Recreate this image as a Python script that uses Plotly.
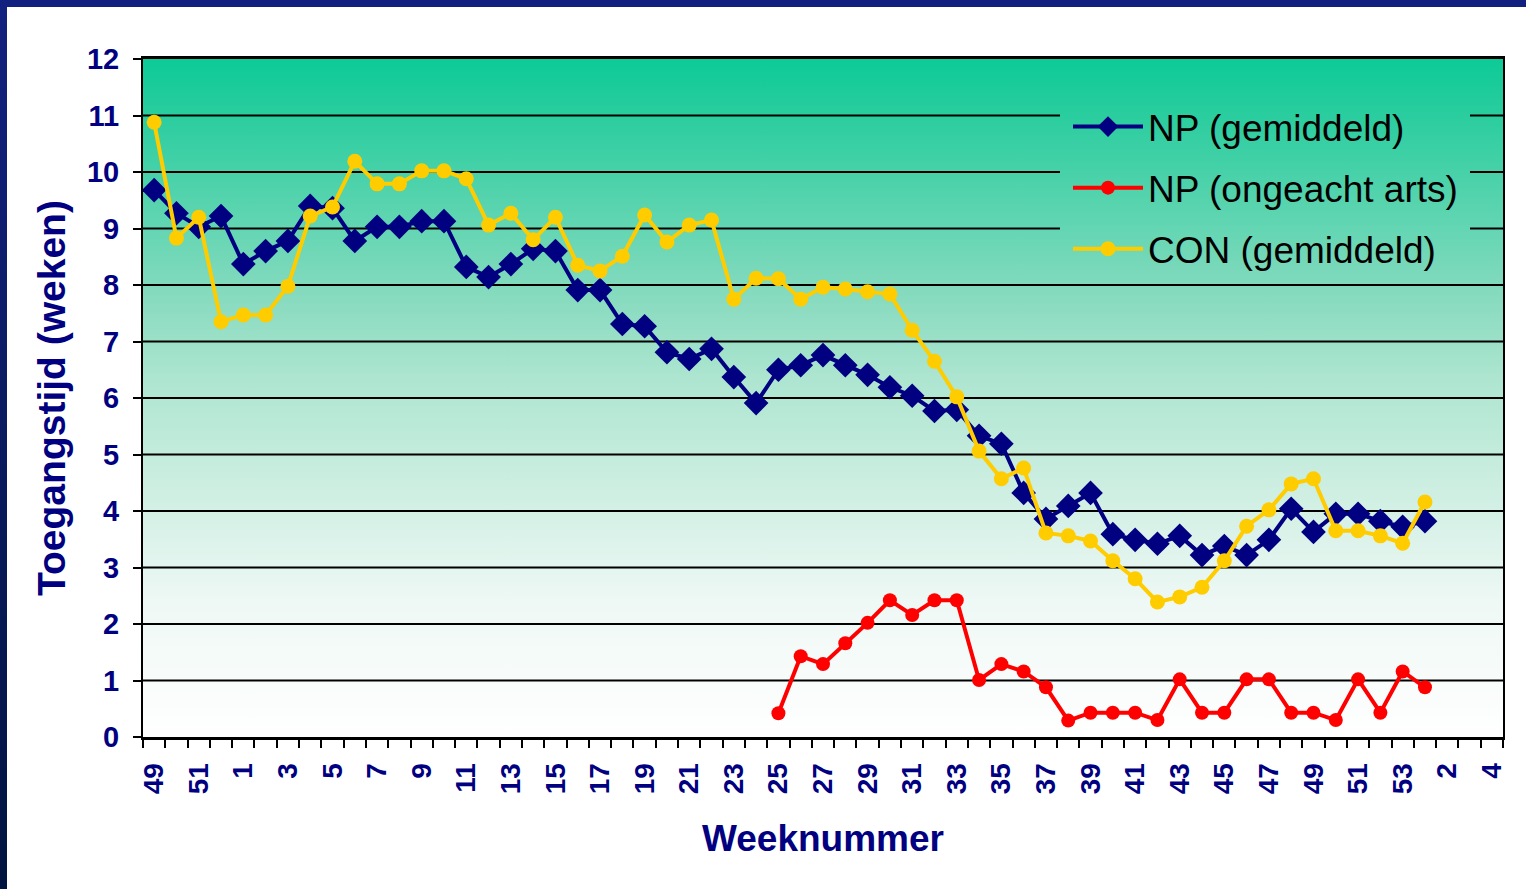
import base64
import plotly.graph_objects as go

# ---------------- data ----------------
weeks = [49, 50, 51, 52,
         1, 2, 3, 4, 5, 6, 7, 8, 9, 10, 11, 12, 13, 14, 15, 16, 17, 18, 19, 20,
         21, 22, 23, 24, 25, 26, 27, 28, 29, 30, 31, 32, 33, 34, 35, 36, 37, 38,
         39, 40, 41, 42, 43, 44, 45, 46, 47, 48, 49, 50, 51, 52, 53,
         1, 2, 3, 4]

np_gemiddeld = [9.68, 9.27, 9.03, 9.22, 8.37, 8.60, 8.78, 9.40, 9.36, 8.78,
                9.03, 9.03, 9.13, 9.13, 8.32, 8.14, 8.37, 8.64, 8.60, 7.91,
                7.91, 7.31, 7.27, 6.81, 6.69, 6.87, 6.37, 5.91, 6.50, 6.58,
                6.76, 6.58, 6.41, 6.19, 6.04, 5.77, 5.79, 5.33, 5.19, 4.32,
                3.86, 4.09, 4.32, 3.59, 3.49, 3.42, 3.56, 3.22, 3.38, 3.22,
                3.49, 4.04, 3.63, 3.95, 3.95, 3.82, 3.72, 3.82]

np_ongeacht = [None] * 28 + [
    0.42, 1.43, 1.29, 1.66, 2.02, 2.42, 2.16, 2.42, 2.42, 1.01,
    1.29, 1.16, 0.88, 0.29, 0.43, 0.43, 0.43, 0.30, 1.02, 0.43,
    0.43, 1.02, 1.02, 0.43, 0.43, 0.30, 1.02, 0.43, 1.16, 0.88]

con_gemiddeld = [10.88, 8.83, 9.20, 7.35, 7.47, 7.47, 7.98, 9.22, 9.38, 10.19,
                 9.79, 9.79, 10.02, 10.02, 9.88, 9.06, 9.27, 8.80, 9.20, 8.35,
                 8.25, 8.51, 9.24, 8.76, 9.06, 9.15, 7.75, 8.12, 8.11, 7.75,
                 7.96, 7.93, 7.88, 7.84, 7.20, 6.65, 6.02, 5.06, 4.57, 4.76,
                 3.61, 3.56, 3.47, 3.12, 2.80, 2.39, 2.48, 2.65, 3.12, 3.73,
                 4.02, 4.48, 4.57, 3.65, 3.65, 3.56, 3.43, 4.16]

series_names = ["NP (gemiddeld)", "NP (ongeacht arts)", "CON (gemiddeld)"]
series_colors = ["#000080", "#FF0000", "#FFCC00"]
y_ticks = list(range(0, 13))

x_pos = list(range(len(weeks)))

NAVY = "#000080"
FONT = "Liberation Sans, Arial, sans-serif"

fig = go.Figure()
fig.add_trace(go.Scatter(
    x=x_pos[:len(np_gemiddeld)], y=np_gemiddeld, name=series_names[0],
    legendgroup="g1", mode="lines+markers",
    line=dict(color=series_colors[0], width=4),
    marker=dict(symbol="diamond", size=19, color=series_colors[0])))
fig.add_trace(go.Scatter(
    x=x_pos[:len(np_ongeacht)], y=np_ongeacht, name=series_names[1],
    legendgroup="g2", mode="lines+markers",
    line=dict(color=series_colors[1], width=4),
    marker=dict(symbol="circle", size=14, color=series_colors[1])))
fig.add_trace(go.Scatter(
    x=x_pos[:len(con_gemiddeld)], y=con_gemiddeld, name=series_names[2],
    legendgroup="g3", mode="lines+markers",
    line=dict(color=series_colors[2], width=4),
    marker=dict(symbol="circle", size=15, color=series_colors[2])))

# ---------------- background gradient ----------------
def svg_uri(svg):
    return "data:image/svg+xml;base64," + base64.b64encode(svg.encode()).decode()

plot_grad = svg_uri(
    '<svg xmlns="http://www.w3.org/2000/svg" width="100" height="100" '
    'viewBox="0 0 100 100" preserveAspectRatio="none">'
    '<defs><linearGradient id="g" x1="0" y1="0" x2="0" y2="1">'
    '<stop offset="0" stop-color="#0ccb97"/>'
    '<stop offset="0.06" stop-color="#22cc9c"/>'
    '<stop offset="0.355" stop-color="#88dbbf"/>'
    '<stop offset="0.47" stop-color="#ade5d0"/>'
    '<stop offset="0.8" stop-color="#eef8f4"/>'
    '<stop offset="1" stop-color="#ffffff"/>'
    '</linearGradient></defs>'
    '<rect width="100" height="100" fill="url(#g)"/></svg>')

frame_grad = svg_uri(
    '<svg xmlns="http://www.w3.org/2000/svg" width="10" height="100" '
    'viewBox="0 0 10 100" preserveAspectRatio="none">'
    '<defs><linearGradient id="f" x1="0" y1="0" x2="0" y2="1">'
    '<stop offset="0" stop-color="#13217f"/>'
    '<stop offset="1" stop-color="#01143f"/>'
    '</linearGradient></defs>'
    '<rect width="10" height="100" fill="url(#f)"/></svg>')

W, H = 1526, 889
ML, MR, MT, MB = 143, 23, 59, 152
PW, PH = W - ML - MR, H - MT - MB

def px_x(px):
    return (px - ML) / PW

def px_y(py):
    return (H - MB - py) / PH

images = [
    dict(source=plot_grad, xref="paper", yref="paper", x=0, y=1,
         sizex=1, sizey=1, sizing="stretch", xanchor="left", yanchor="top",
         layer="below"),
    dict(source=frame_grad, xref="paper", yref="paper", x=px_x(0), y=px_y(0),
         sizex=7 / PW, sizey=H / PH, sizing="stretch", xanchor="left",
         yanchor="top", layer="above"),
]

shapes = [dict(type="rect", xref="paper", yref="paper",
               x0=px_x(0), x1=px_x(W), y0=px_y(7), y1=px_y(0),
               fillcolor="#12207f", line=dict(width=0), layer="above")]

# gridlines (interrupted behind the legend)
leg_gap = (40.63, 59.02)
for v in y_ticks[1:-1]:
    segs = [(-0.5, 60.5)]
    if v >= 9:
        segs = [(-0.5, leg_gap[0]), (leg_gap[1], 60.5)]
    for a, b in segs:
        shapes.append(dict(type="line", xref="x", yref="y", x0=a, x1=b,
                           y0=v, y1=v, line=dict(color="black", width=2),
                           layer="below"))

fig.update_layout(
    width=W, height=H, autosize=False,
    margin=dict(l=ML, r=MR, t=MT, b=MB, pad=0),
    paper_bgcolor="white", plot_bgcolor="white",
    images=images, shapes=shapes,
    font=dict(family=FONT),
    showlegend=True,
    legend=dict(x=px_x(1068), y=px_y(96), xanchor="left", yanchor="top",
                bgcolor="rgba(0,0,0,0)", borderwidth=0,
                font=dict(size=37, color="black", family=FONT),
                itemwidth=70, traceorder="grouped", tracegroupgap=10),
    xaxis=dict(
        range=[-0.5, 60.5], tickmode="array",
        tickvals=x_pos[::2], ticktext=[str(w) for w in weeks[::2]],
        tickangle=-90,
        tickfont=dict(size=28, color=NAVY, family=FONT, weight="bold"),
        ticks="outside", ticklen=8, tickcolor="rgba(0,0,0,0)",
        ticklabelstandoff=4,
        minor=dict(tickmode="linear", tick0=-0.5, dtick=1, ticks="outside",
                   ticklen=8, tickwidth=2, tickcolor="black", showgrid=False),
        showgrid=False, zeroline=False,
        showline=True, linecolor="black", linewidth=3, mirror=True,
        title=dict(text="Weeknummer", standoff=32,
                   font=dict(size=37, color=NAVY, family=FONT, weight="bold")),
    ),
    yaxis=dict(
        range=[0, 12], tickmode="array", tickvals=y_ticks,
        ticktext=[str(t) for t in y_ticks],
        tickfont=dict(size=29, color=NAVY, family=FONT, weight="bold"),
        ticks="outside", ticklen=8, tickwidth=2, tickcolor="black",
        ticklabelstandoff=8,
        showgrid=False, zeroline=False,
        showline=True, linecolor="black", linewidth=2, mirror=True,
        title=dict(text="Toegangstijd (weken)", standoff=9,
                   font=dict(size=39, color=NAVY, family=FONT, weight="bold")),
    ),
)

fig.write_html("out.html",
               config={"displayModeBar": False},
               post_script="document.body.style.margin='0';"
                           "document.body.style.overflow='hidden';")
